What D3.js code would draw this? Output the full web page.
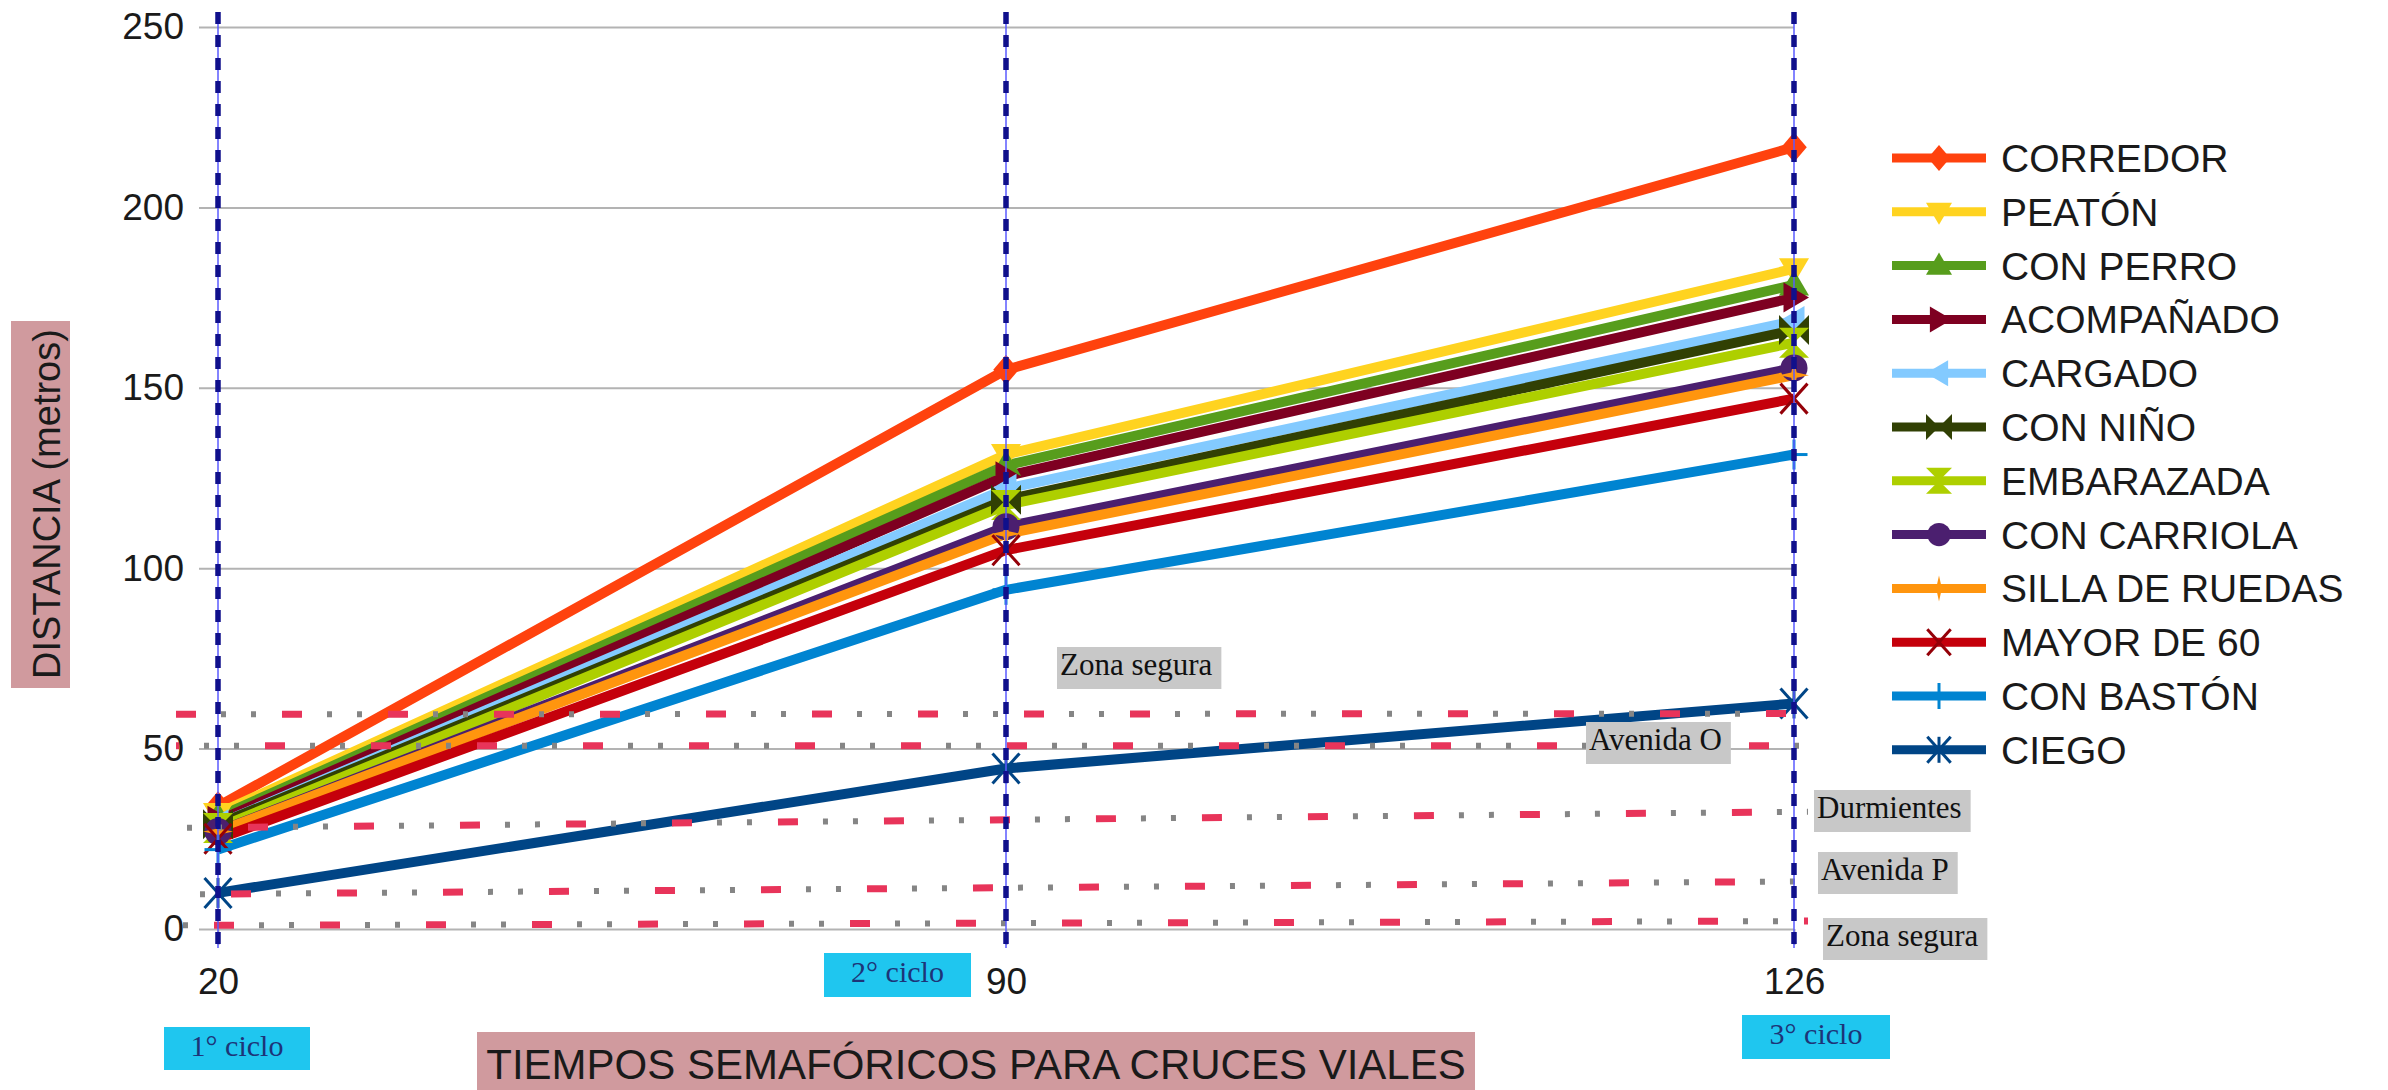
<!DOCTYPE html>
<html>
<head>
<meta charset="utf-8">
<script src="https://cdnjs.cloudflare.com/ajax/libs/d3/7.8.5/d3.min.js"></script>
<style>
  html, body { margin: 0; padding: 0; background: #ffffff; }
  svg { display: block; }
</style>
</head>
<body>
<svg id="chart" width="2388" height="1090"></svg>
<script>
// ---------------- DATA ----------------
const categories = ["20", "90", "126"];
const yTicks = [0, 50, 100, 150, 200, 250];

const seriesNames = ["CORREDOR", "PEATÓN", "CON PERRO", "ACOMPAÑADO", "CARGADO", "CON NIÑO",
  "EMBARAZADA", "CON CARRIOLA", "SILLA DE RUEDAS", "MAYOR DE 60", "CON BASTÓN", "CIEGO"];

const corredor     = [34, 155, 216.7];
const peaton       = [32, 131.5, 183];
const conPerro     = [31, 128.5, 178.5];
const acompanado   = [30, 125.5, 175];
const cargado      = [29, 122, 168.5];
const conNino      = [29, 119, 166];
const embarazada   = [28, 117.5, 162.5];
const conCarriola  = [27, 111.5, 155.5];
const sillaRuedas  = [27, 109.5, 153.5];
const mayor60      = [25, 105, 147];
const conBaston    = [22, 94, 131.5];
const ciego        = [10, 44.5, 62.5];

const seriesValues = [corredor, peaton, conPerro, acompanado, cargado, conNino,
  embarazada, conCarriola, sillaRuedas, mayor60, conBaston, ciego];

// horizontal reference lines (value at left end, value at right end)
const refLineStart = [59.5, 50.8, 28.0, 9.6, 1.0];
const refLineEnd   = [59.7, 50.8, 32.5, 13.2, 2.2];

const zoneLabels  = ["Zona segura", "Avenida O", "Durmientes", "Avenida P", "Zona segura"];
const cycleLabels = ["1° ciclo", "2° ciclo", "3° ciclo"];

const yTitle = "DISTANCIA (metros)";
const xTitle = "TIEMPOS SEMAFÓRICOS PARA CRUCES VIALES";

// ---------------- STYLE ----------------
const seriesColors = ["#ff420e", "#ffd320", "#579d1c", "#7e0021", "#83caff", "#314004",
  "#aecf00", "#4b1f6f", "#ff950e", "#c5000b", "#0084d1", "#004586"];
const markerTypes = ["diamond", "down", "up", "right", "left", "bowtie",
  "hourglass", "circle", "star", "x", "plus", "asterisk"];

// layout
const plot = { left: 218, right: 1794, top: 27, bottom: 929 };
const zoneLabelPos = [[1060, 647], [1589, 722], [1817, 790], [1821, 852], [1826, 918]];
const cycleLabelBox = [[164, 1027, 146, 43], [824, 953, 147, 44], [1742, 1015, 148, 44]];

const svg = d3.select("#chart");
const sans = "'Liberation Sans', Arial, sans-serif";
const serif = "'Liberation Serif', 'Times New Roman', serif";

const x = d3.scalePoint().domain(categories).range([plot.left, plot.right]);
const y = d3.scaleLinear().domain([0, 250]).range([plot.bottom, plot.top]);

// ---------------- GRID / AXES ----------------
const yAxis = d3.axisLeft(y).tickValues(yTicks).tickSize(plot.right - plot.left + 19).tickPadding(15);
const gy = svg.append("g").attr("transform", `translate(${plot.right},0)`).call(yAxis);
gy.select(".domain").remove();
gy.selectAll(".tick line").attr("stroke", "#b3b3b3").attr("stroke-width", 2);
gy.selectAll(".tick text").attr("font-family", sans).attr("font-size", 37).attr("fill", "#1a1a1a");

const xAxis = d3.axisBottom(x).tickSize(16).tickPadding(23);
const gx = svg.append("g").attr("transform", `translate(0,${plot.bottom})`).call(xAxis);
gx.select(".domain").remove();
gx.selectAll(".tick line").attr("stroke", "#b3b3b3").attr("stroke-width", 2);
gx.selectAll(".tick text").attr("font-family", sans).attr("font-size", 37).attr("fill", "#1a1a1a");

// ---------------- MARKERS ----------------
function markerPath(type, s) {
  switch (type) {
    case "diamond": return `M0,${-s}L${s * 0.85},0L0,${s}L${-s * 0.85},0Z`;
    case "down": return `M${-s},${-s * 0.7}L${s},${-s * 0.7}L0,${s}Z`;
    case "up": return `M${-s},${s * 0.7}L${s},${s * 0.7}L0,${-s}Z`;
    case "right": return `M${-s * 0.7},${-s}L${s},0L${-s * 0.7},${s}Z`;
    case "left": return `M${s * 0.7},${-s}L${-s},0L${s * 0.7},${s}Z`;
    case "bowtie": return `M${-s},${-s}L${s},${s}L${s},${-s}L${-s},${s}Z`;
    case "hourglass": return `M${-s},${-s}L${s},${-s}L${-s},${s}L${s},${s}Z`;
    case "star": {
      const k = s * 0.18;
      return `M0,${-s}L${k},${-k}L${s},0L${k},${k}L0,${s}L${-k},${k}L${-s},0L${-k},${-k}Z`;
    }
    default: return "";
  }
}
function drawMarker(g, type, color, cx, cy, s) {
  if (type === "circle") {
    g.append("circle").attr("cx", cx).attr("cy", cy).attr("r", s * 0.9).attr("fill", color);
  } else if (type === "x" || type === "plus" || type === "asterisk") {
    const dark = d3.color(color).darker(0.8).formatHex();
    const segs = [];
    if (type === "x" || type === "asterisk") segs.push([-s, -s, s, s], [-s, s, s, -s]);
    if (type === "plus" || type === "asterisk") segs.push([0, -s, 0, s]);
    if (type === "plus") segs.push([-s, 0, s, 0]);
    segs.forEach(d => g.append("line")
      .attr("x1", cx + d[0] * 0.9).attr("y1", cy + d[1]).attr("x2", cx + d[2] * 0.9).attr("y2", cy + d[3])
      .attr("stroke", type === "x" ? dark : color).attr("stroke-width", 3));
  } else {
    g.append("path").attr("d", markerPath(type, s)).attr("transform", `translate(${cx},${cy})`).attr("fill", color);
  }
}

// ---------------- SERIES ----------------
const line = d3.line().x((d, i) => x(categories[i])).y(d => y(d));
const gLines = svg.append("g");
seriesValues.forEach((vals, i) => {
  gLines.append("path").attr("d", line(vals)).attr("fill", "none")
    .attr("stroke", seriesColors[i]).attr("stroke-width", 10).attr("stroke-linejoin", "round");
});
const gMarks = svg.append("g");
seriesValues.forEach((vals, i) => {
  vals.forEach((v, j) => drawMarker(gMarks, markerTypes[i], seriesColors[i], x(categories[j]), y(v), 15));
});

// ---------------- REFERENCE LINES ----------------
const gRef = svg.append("g");
refLineStart.forEach((v0, i) => {
  const x0 = x(categories[0]) - 42, x1 = x(categories[categories.length - 1]) + 14;
  const d = `M${x0},${y(v0)}L${x1},${y(refLineEnd[i])}`;
  const off = i * 17;
  // red dash: 0..20 of a 106 period; gray dots at 45 and 75
  gRef.append("path").attr("d", d).attr("fill", "none").attr("stroke", "#858585").attr("stroke-width", 6)
    .attr("stroke-dasharray", "5 25 5 71").attr("stroke-dashoffset", off - 45);
  gRef.append("path").attr("d", d).attr("fill", "none").attr("stroke", "#e8345a").attr("stroke-width", 7)
    .attr("stroke-dasharray", "20 86").attr("stroke-dashoffset", off);
});

// ---------------- VERTICAL CYCLE LINES ----------------
const gV = svg.append("g");
categories.forEach(c => {
  gV.append("line").attr("x1", x(c)).attr("x2", x(c)).attr("y1", 12).attr("y2", 948)
    .attr("stroke", "#5a5aff").attr("stroke-width", 1.5);
  gV.append("line").attr("x1", x(c)).attr("x2", x(c)).attr("y1", 12).attr("y2", 948)
    .attr("stroke", "#10108c").attr("stroke-width", 5.5).attr("stroke-dasharray", "12 11");
});

// ---------------- ANNOTATIONS ----------------
const gAnn = svg.append("g");
zoneLabels.forEach((t, i) => {
  const [lx, ly] = zoneLabelPos[i];
  const rect = gAnn.append("rect").attr("fill", "#c8c8c8");
  const txt = gAnn.append("text").attr("x", lx).attr("y", ly + 28).text(t)
    .attr("font-family", serif).attr("font-size", 31).attr("fill", "#111");
  const w = txt.node().getComputedTextLength();
  rect.attr("x", lx - 3).attr("y", ly).attr("width", w + 12).attr("height", 42);
});
cycleLabels.forEach((t, i) => {
  const [bx, by, bw, bh] = cycleLabelBox[i];
  gAnn.append("rect").attr("x", bx).attr("y", by).attr("width", bw).attr("height", bh).attr("fill", "#1fc6ef");
  gAnn.append("text").attr("x", bx + bw / 2).attr("y", by + 29).attr("text-anchor", "middle").text(t)
    .attr("font-family", serif).attr("font-size", 30).attr("fill", "#1d3478");
});

// ---------------- AXIS TITLES ----------------
svg.append("rect").attr("x", 11).attr("y", 321).attr("width", 59).attr("height", 367).attr("fill", "#d09a9e");
svg.append("text").attr("transform", "translate(60,504) rotate(-90)").attr("text-anchor", "middle")
  .attr("font-family", sans).attr("font-size", 38).attr("fill", "#1a1a1a").text(yTitle);

svg.append("rect").attr("x", 477).attr("y", 1032).attr("width", 998).attr("height", 58).attr("fill", "#d09a9e");
svg.append("text").attr("x", 976).attr("y", 1079).attr("text-anchor", "middle")
  .attr("font-family", sans).attr("font-size", 42).attr("fill", "#1a1a1a").text(xTitle);

// ---------------- LEGEND ----------------
const gLeg = svg.append("g");
seriesNames.forEach((n, i) => {
  const cy = 158 + i * 53.8;
  gLeg.append("line").attr("x1", 1892).attr("x2", 1986).attr("y1", cy).attr("y2", cy)
    .attr("stroke", seriesColors[i]).attr("stroke-width", 9);
  drawMarker(gLeg, markerTypes[i], seriesColors[i], 1939, cy, 13);
  gLeg.append("text").attr("x", 2001).attr("y", cy + 14).text(n)
    .attr("font-family", sans).attr("font-size", 39).attr("fill", "#1a1a1a");
});
</script>
</body>
</html>
